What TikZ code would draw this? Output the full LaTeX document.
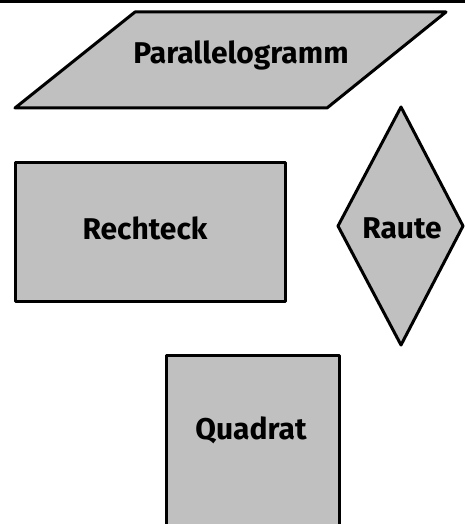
\documentclass[tikz,border=0pt]{standalone}
\usepackage{fontspec}
\setmainfont{Fira Sans}
\begin{document}
\begin{tikzpicture}[x=1pt,y=-1pt,
  shapebox/.style={draw=black,fill=shapegray,line width=3pt,line join=round},
  lbl/.style={font=\fontsize{30}{32}\selectfont\bfseries,inner sep=0pt,anchor=center}]
\definecolor{shapegray}{RGB}{192,192,192}
\fill[white] (0,0) rectangle (465,524);
\useasboundingbox (0,0) rectangle (465,524);
\draw[line width=3pt] (0,2) -- (465,2);
% parallelogram
\draw[shapebox] (135,12) -- (446,12) -- (327,108) -- (15,108) -- cycle;
\node[lbl] (para) at (241,55) {Parallelogramm};
% rectangle
\draw[shapebox] (15,162) rectangle (285,301);
\node[lbl] (rect) at (145,228) {Rechteck};
% diamond
\draw[shapebox] (401,107) -- (463,226) -- (401,345) -- (338,226) -- cycle;
\node[lbl] (raute) at (402,228) {Raute};
% square
\draw[shapebox] (166,355) rectangle (339,530);
\node[lbl] (quad) at (251,430) {Quadrat};
\end{tikzpicture}
\end{document}
